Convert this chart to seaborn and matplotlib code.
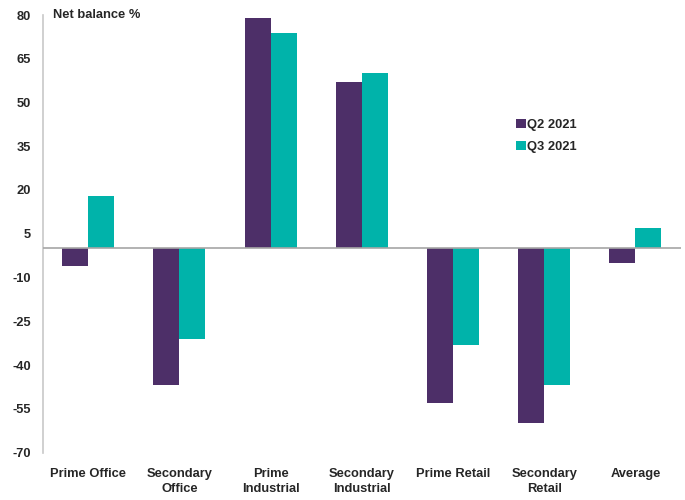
import matplotlib
matplotlib.use("Agg")
import matplotlib.pyplot as plt
import seaborn as sns
import pandas as pd

# data
categories = ["Prime Office", "Secondary\nOffice", "Prime\nIndustrial", "Secondary\nIndustrial",
              "Prime Retail", "Secondary\nRetail", "Average"]
q2_2021 = [-6, -47, 79, 57, -53, -60, -5]
q3_2021 = [18, -31, 74, 60, -33, -47, 7]
series_names = ["Q2 2021", "Q3 2021"]
y_ticks = [80, 65, 50, 35, 20, 5, -10, -25, -40, -55, -70]

purple = "#4D2F68"
teal = "#00B3AA"
fs = 9.3

sns.set_style("white")
plt.rcParams["font.family"] = ["Liberation Sans", "DejaVu Sans"]
plt.rcParams["font.weight"] = "bold"

df = pd.DataFrame({
    "category": categories * 2,
    "value": q2_2021 + q3_2021,
    "series": [series_names[0]] * len(categories) + [series_names[1]] * len(categories),
})

fig = plt.figure(figsize=(6.85, 5.0), dpi=100)
ax = fig.add_axes([42.7 / 685, 1 - 452.5 / 500, (681 - 42.7) / 685, (452.5 - 15) / 500])

sns.barplot(data=df, x="category", y="value", hue="series", order=categories,
            palette=[purple, teal], width=0.57, saturation=1, ax=ax,
            edgecolor="none", linewidth=0)

ax.set_ylim(-70, 80)
ax.set_xlim(-0.5, 6.5)
ax.set_yticks(y_ticks)
ax.set_yticklabels([str(t) for t in y_ticks], fontsize=fs, fontweight="bold")
ax.set_xlabel("")
ax.set_ylabel("")
ax.tick_params(axis="y", length=0, pad=8.5)
ax.tick_params(axis="x", length=0, pad=11, labelsize=fs)
for lab in ax.get_xticklabels():
    lab.set_fontweight("bold")
    lab.set_linespacing(1.38)

for side in ["top", "right", "bottom"]:
    ax.spines[side].set_visible(False)
ax.spines["left"].set_color("#c8c8c8")
ax.spines["left"].set_linewidth(1.2)
ax.axhline(0, color="#a6a6a6", linewidth=1.2, zorder=3)

fig.text(53 / 685, 1 - 15 / 500, "Net balance %", fontsize=fs, fontweight="bold",
         ha="left", va="center")

leg = ax.legend(loc="upper left", bbox_to_anchor=(510 / 685, 1 - 112.5 / 500),
                bbox_transform=fig.transFigure, frameon=False,
                handlelength=0.7, handleheight=0.7, handletextpad=0.15,
                labelspacing=0.75, borderpad=0, prop={"size": fs, "weight": "bold"})

fig.savefig("out.png", dpi=100)
